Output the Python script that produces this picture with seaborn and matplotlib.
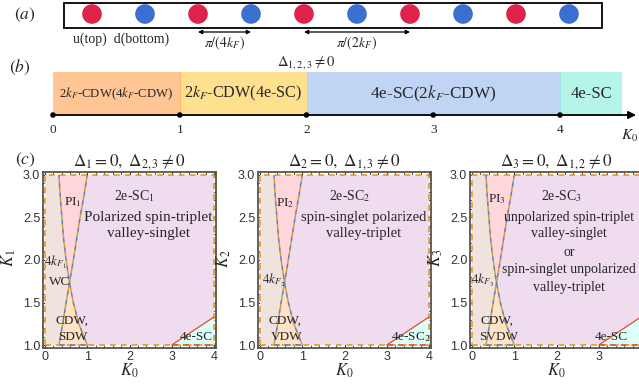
import numpy as np
import pandas as pd
import matplotlib
matplotlib.use("Agg")
import matplotlib.pyplot as plt
from matplotlib.patches import Rectangle
from matplotlib.ticker import MultipleLocator
import seaborn as sns

# ---------------- data ----------------
# (a) chain of layers
dot_species = ["u", "d", "u", "d", "u", "d", "u", "d", "u", "d"]
dot_index = list(range(10))

# (b) 1D phase line
band_edges = [0.0, 1.0, 2.0, 4.0, 4.49]
band_labels = ["2$k_F$-CDW(4$k_F$-CDW)", "2$k_F$-CDW(4e-SC)", "4e-SC(2$k_F$-CDW)", "4e-SC"]
band_fontsize = [9.2, 11.6, 12.4, 12.0]
band_colors = ["#FFC595", "#FFE08F", "#BFD5F3", "#B5F5E7"]
axis_ticks = [0, 1, 2, 3, 4]

# (c) phase diagrams (boundaries)
K1_pts = [1.0, 1.25, 1.5, 1.73, 2.0, 2.25, 2.5, 2.75, 3.0]
hyper_K0 = [1.0, 0.80, 0.67, 0.58, 0.50, 0.44, 0.40, 0.36, 0.33]
line_K0 = [0.33, 0.42, 0.50, 0.58, 0.67, 0.75, 0.83, 0.92, 1.0]
sc4_K0 = [3.0, 4.0]
sc4_K1 = [1.0, 1.33]

titles = [r"$\Delta_1=0,\ \Delta_{2,3}\neq 0$",
          r"$\Delta_2=0,\ \Delta_{1,3}\neq 0$",
          r"$\Delta_3=0,\ \Delta_{1,2}\neq 0$"]
ylabels = [r"$K_1$", r"$K_2$", r"$K_3$"]
sc2_names = ["2e-SC$_1$", "2e-SC$_2$", "2e-SC$_3$"]
sc2_desc = [["Polarized spin-triplet", "valley-singlet"],
            ["spin-singlet polarized", "valley-triplet"],
            ["unpolarized spin-triplet", "valley-singlet", "or",
             "spin-singlet unpolarized", "valley-triplet"]]
pi_names = ["PI$_1$", "PI$_2$", "PI$_3$"]
wc_names = [["$4k_{F_1}$", "WC"], ["$4k_{F_2}$"], ["$4k_{F_3}$"]]
cdw_names = [["CDW,", "SDW"], ["CDW,", "VDW"], ["CDW,", "SVDW"]]
sc4_names = ["4e-SC", "4e-SC$_2$", "4e-SC"]
x_ticks = [0, 1, 2, 3, 4]
y_ticks = [1.0, 1.5, 2.0, 2.5, 3.0]

# ---------------- style ----------------
sns.set_theme(style="white")
plt.rcParams["font.family"] = ["Liberation Serif", "DejaVu Serif"]
plt.rcParams["mathtext.fontset"] = "stix"

W, H = 639, 388
fig = plt.figure(figsize=(W / 100, H / 100), dpi=100)


def rect(l, t, r, b):
    return [l / W, 1 - b / H, (r - l) / W, (b - t) / H]


RED = "#E0234A"
BLUE = "#3C70D0"
ORANGE = "#E19C24"
MBLUE = "#5E81B5"
REDL = "#E0502A"

# ---------------- (a) ----------------
axa = fig.add_axes(rect(0, 0, W, 55))
axa.set_xlim(-92 / 53, (W - 92) / 53)
axa.set_ylim(55, 0)
axa.axis("off")
dfa = pd.DataFrame({"x": dot_index, "y": [14] * 10, "s": dot_species})
sns.scatterplot(data=dfa, x="x", y="y", hue="s", palette={"u": RED, "d": BLUE},
                s=200, edgecolor="none", legend=False, ax=axa)
axa.add_patch(Rectangle((-0.53, 3), 10.15, 25, fill=False, lw=1.3, ec="black"))
axa.text(-1.27, 15, "$(a)$", fontsize=12.5, ha="center", va="center")
axa.text(0.55, 39.5, "u(top)  d(bottom)", fontsize=10, ha="center", va="center")
axa.annotate("", xy=(2, 32), xytext=(3, 32),
             arrowprops=dict(arrowstyle="<|-|>", color="black", lw=0.9, mutation_scale=6,
                             shrinkA=0, shrinkB=0))
axa.annotate("", xy=(4, 32), xytext=(6, 32),
             arrowprops=dict(arrowstyle="<|-|>", color="black", lw=0.9, mutation_scale=6,
                             shrinkA=0, shrinkB=0))
axa.text(2.5, 43.5, r"$\pi/(4k_F)$", fontsize=10, ha="center", va="center")
axa.text(5.0, 43.5, r"$\pi/(2k_F)$", fontsize=10, ha="center", va="center")

# ---------------- (b) ----------------
axb = fig.add_axes(rect(0, 55, W, 145))
u = 126.75
axb.set_xlim(-53 / u, (W - 53) / u)
axb.set_ylim(0, 1)
axb.axis("off")
yb0, yb1 = 30 / 90, 73 / 90
for i in range(4):
    axb.fill_between([band_edges[i], band_edges[i + 1]], yb0, yb1, color=band_colors[i], lw=0)
    axb.text((band_edges[i] + band_edges[i + 1]) / 2, 0.57, band_labels[i],
             fontsize=band_fontsize[i], ha="center", va="center")
axb.plot([band_edges[1]] * 2, [yb0, yb1], color="#FFB060", lw=0.6)
axb.plot([band_edges[3]] * 2, [yb0, yb1], color="#9FD9F0", lw=0.6)
axb.annotate("", xy=(4.6, yb0), xytext=(0, yb0),
             arrowprops=dict(arrowstyle="-|>", color="black", lw=1.3, mutation_scale=11,
                             shrinkA=0, shrinkB=0))
sns.scatterplot(x=axis_ticks, y=[yb0] * 5, color="black", s=16, edgecolor="none", ax=axb,
                zorder=5)
for t in axis_ticks:
    axb.text(t, 0.17, str(t), fontsize=9.5, ha="center", va="center")
axb.text(4.55, 0.10, "$K_0$", fontsize=11, ha="center", va="center")
axb.text(2.0, 0.92, r"$\Delta_{1,2,3}\neq 0$", fontsize=10.5, ha="center", va="center")
axb.text(-0.26, 0.86, "$(b)$", fontsize=12.5, ha="center", va="center")

# ---------------- (c) ----------------
panel_px = [(43, 216), (258, 431), (470, 643)]
K1a = np.array(K1_pts)
hA = np.array(hyper_K0)
lA = np.array(line_K0)
for k, (l, r) in enumerate(panel_px):
    ax = fig.add_axes(rect(l, 172, r, 348))
    ax.set_xlim(-2 / 42.25, 4 + 2 / 42.25)
    ax.set_ylim(1 - 3 / 85, 3 + 3 / 85)
    # regions
    ax.fill_between([0, 4], 1, 3, color="#EFDDEF", lw=0)
    ax.fill_betweenx(K1a, 0, np.maximum(hA, lA), color="#F0E3DD", lw=0)
    ax.fill_betweenx(K1a, hA, lA, where=hA <= lA, interpolate=True, color="#FFD6DB", lw=0)
    ax.fill_betweenx(K1a, lA, hA, where=hA >= lA, interpolate=True, color="#FFE3C8", lw=0)
    ax.fill_between(sc4_K0, 1, sc4_K1, color="#DDFFF9", lw=0)
    # border dashed
    dash = (0, (3.5, 3.0))
    ax.plot([0, 4, 4, 0, 0], [1, 1, 3, 3, 1], color=ORANGE, lw=1.2, linestyle=dash)
    ax.plot([line_K0[0], hyper_K0[0]], [1, 1], color=MBLUE, lw=1.2, linestyle=dash)
    ax.plot([3, 4], [1, 1], color=REDL, lw=1.2, linestyle=dash)
    for xs in (hyper_K0, line_K0):
        sns.lineplot(x=xs, y=K1_pts, sort=False, estimator=None, color=ORANGE, lw=1.1,
                     linestyle=(0, (3, 3)), ax=ax)
        sns.lineplot(x=xs, y=K1_pts, sort=False, estimator=None, color=MBLUE, lw=1.1,
                     linestyle=(3, (3, 3)), ax=ax)
    sns.lineplot(x=sc4_K0, y=sc4_K1, sort=False, estimator=None, color=REDL, lw=0.9, ax=ax)

    # ticks
    ax.set_xticks(x_ticks)
    ax.set_yticks(y_ticks)
    xl = [str(t) for t in x_ticks]
    if k == 2:
        xl[-1] = ""
    ax.set_xticklabels(xl, fontfamily="Liberation Sans")
    ax.set_yticklabels([f"{t:.1f}" for t in y_ticks], fontfamily="Liberation Sans")
    ax.xaxis.set_minor_locator(MultipleLocator(0.2))
    ax.yaxis.set_minor_locator(MultipleLocator(0.1))
    ax.tick_params(which="both", direction="in", top=True, right=True, bottom=True, left=True,
                   color="#333333", labelcolor="#333333", labelsize=9)
    ax.tick_params(which="major", length=3.5, width=0.8, pad=2)
    ax.tick_params(which="minor", length=2, width=0.6)
    for s in ax.spines.values():
        s.set_color("#555555")
        s.set_linewidth(1.3)
    ax.set_xlabel("$K_0$", fontsize=12)
    ax.set_ylabel(ylabels[k], fontsize=12)
    ax.xaxis.set_label_coords(0.5, -0.08)
    ax.yaxis.set_label_coords(-0.145, 0.51)
    ax.set_title(titles[k], fontsize=12.3, pad=3)

    # labels
    ax.text(2.12, 2.75, sc2_names[k], fontsize=10, ha="center", va="center")
    desc = sc2_desc[k]
    ys = [2.5, 2.31] if len(desc) == 2 else [2.5, 2.31, 2.09, 1.89, 1.68]
    fs = [11, 10.5, 10][k]
    dx = [2.45, 2.45, 2.3][k]
    for d, yy in zip(desc, ys):
        ax.text(dx, yy, d, fontsize=fs, ha="center", va="center")
    ax.text([0.67, 0.6, 0.6][k], [2.68, 2.67, 2.72][k], pi_names[k], fontsize=9.5,
            ha="center", va="center")
    wc = wc_names[k]
    if k == 0:
        ax.text(0.25, 1.97, wc[0], fontsize=9.5, ha="center", va="center")
        ax.text(0.34, 1.74, wc[1], fontsize=9.5, ha="center", va="center")
    else:
        ax.text([0, 0.33, 0.25][k], 1.76, wc[0], fontsize=9.5, ha="center", va="center")
    cx = [0.63, 0.6, 0.6][k]
    ax.text(cx, 1.28, cdw_names[k][0], fontsize=9.5, ha="center", va="center")
    ax.text(cx + 0.03, 1.1, cdw_names[k][1], fontsize=9.5, ha="center", va="center")
    ax.text([3.2, 3.1, 2.9][k], 1.09, sc4_names[k], fontsize=9.5, ha="left", va="center")

fig.text(25 / W, 1 - 160 / H, "$(c)$", fontsize=12.5, ha="center", va="center")

fig.savefig("out.png", dpi=100)
